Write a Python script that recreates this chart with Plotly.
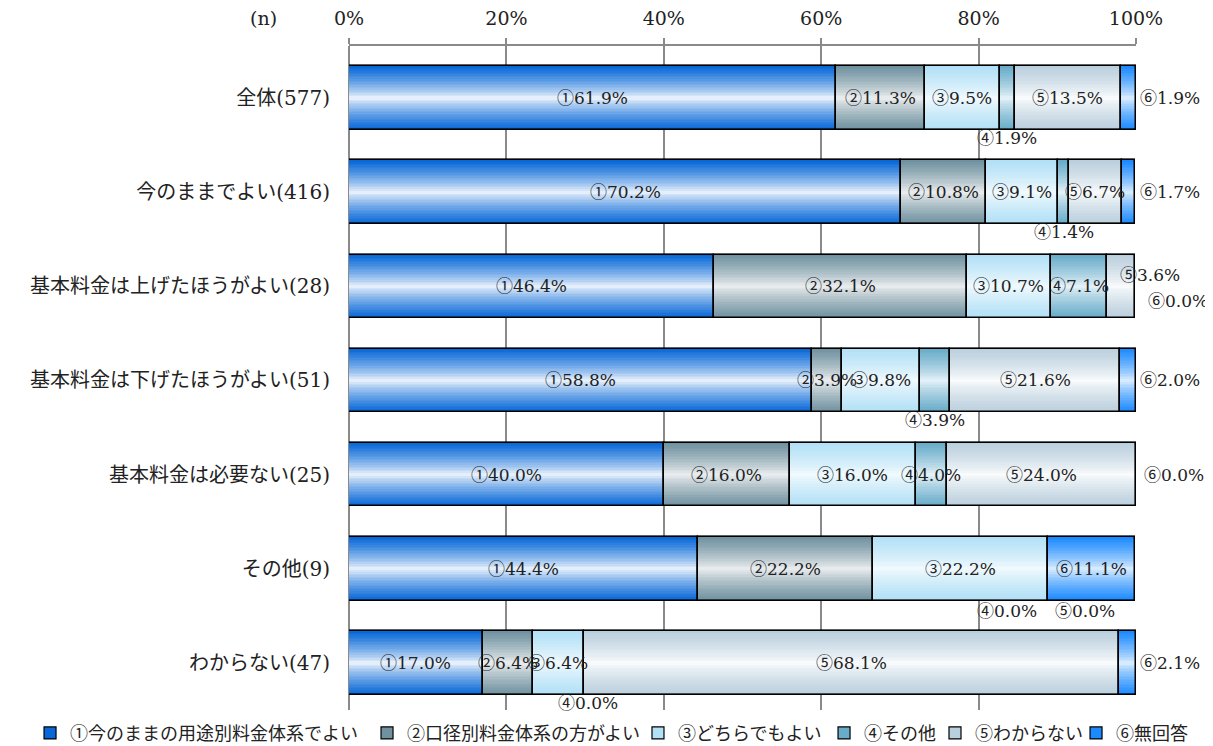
import plotly.graph_objects as go

categories = ["全体(577)", "今のままでよい(416)", "基本料金は上げたほうがよい(28)",
              "基本料金は下げたほうがよい(51)", "基本料金は必要ない(25)", "その他(9)", "わからない(47)"]
series_names = ["①今のままの用途別料金体系でよい", "②口径別料金体系の方がよい", "③どちらでもよい",
                "④その他", "⑤わからない", "⑥無回答"]
prefixes = ["①", "②", "③", "④", "⑤", "⑥"]

s1 = [61.9, 70.2, 46.4, 58.8, 40.0, 44.4, 17.0]
s2 = [11.3, 10.8, 32.1, 3.9, 16.0, 22.2, 6.4]
s3 = [9.5, 9.1, 10.7, 9.8, 16.0, 22.2, 6.4]
s4 = [1.9, 1.4, 7.1, 3.9, 4.0, 0.0, 0.0]
s5 = [13.5, 6.7, 3.6, 21.6, 24.0, 0.0, 68.1]
s6 = [1.9, 1.7, 0.0, 2.0, 0.0, 11.1, 2.1]
series_values = [s1, s2, s3, s4, s5, s6]

x_ticks = [0, 20, 40, 60, 80, 100]

# style: edge colour / centre colour of the vertical gradient
edge_colors = [(8, 104, 216), (112, 146, 160), (178, 224, 246), (104, 172, 201), (186, 207, 221), (28, 138, 255)]
center_colors = [(255, 255, 255), (246, 246, 246), (246, 252, 255), (240, 248, 252), (255, 255, 255), (236, 246, 255)]

# legend item left positions (paper x), one small legend per series so they sit in one row
legend_x = [-0.4053, 0.0229, 0.3672, 0.6036, 0.7446, 0.9238]

# label placement (row, series) -> (mode, xshift, yshift); default is centred inside
placement = {
    (0, 3): ("below", 0, -40), (0, 5): ("right", 2, 0),
    (1, 3): ("below", 0, -40), (1, 5): ("right", 2, 0),
    (2, 4): ("right", -18, 11), (2, 5): ("right", 10, -15),
    (3, 3): ("below", 0, -40), (3, 5): ("right", 2, 0),
    (4, 5): ("right", 6, 0),
    (5, 3): ("below", -41, -42), (5, 4): ("below", 37, -42),
    (6, 3): ("below", 4, -40), (6, 5): ("right", 2, 0),
}

FONT = "DejaVu Serif, Noto Sans CJK JP, serif"
BAR_W = 0.675
N_LAYERS = 20

fig = go.Figure()

# bases (cumulative starts)
bases = []
run = [0.0] * len(categories)
for vals in series_values:
    bases.append(run[:])
    run = [r + v for r, v in zip(run, vals)]

def mix(c0, c1, t):
    return "rgb(%d,%d,%d)" % tuple(round(a + (b - a) * t) for a, b in zip(c0, c1))

def legend_key(i):
    return "legend" if i == 0 else f"legend{i + 1}"

for si, vals in enumerate(series_values):
    for li in range(N_LAYERS):
        frac = 1 - li / N_LAYERS  # 1 = outer edge
        w = BAR_W * frac
        col = mix(center_colors[si], edge_colors[si], frac ** 0.75)
        fig.add_trace(go.Bar(
            y=categories, x=vals, base=bases[si], orientation="h",
            width=w, name=series_names[si],
            marker=dict(color=col, line=dict(color="black", width=1.2 if li == 0 else 0)),
            showlegend=(li == 0), legend=legend_key(si), legendgroup=str(si), hoverinfo="skip",
        ))

# border outlines on top
for si, vals in enumerate(series_values):
    ys = [c for c, v in zip(categories, vals) if v > 0]
    xs = [v for v in vals if v > 0]
    bs = [b for b, v in zip(bases[si], vals) if v > 0]
    fig.add_trace(go.Bar(
        y=ys, x=xs, base=bs, orientation="h", width=BAR_W,
        marker=dict(color="rgba(0,0,0,0)", line=dict(color="black", width=1.5)),
        showlegend=False, hoverinfo="skip",
    ))

annotations = []
for si, vals in enumerate(series_values):
    for ri, v in enumerate(vals):
        text = f"{prefixes[si]}{v:.1f}%"
        mode, dx, dy = placement.get((ri, si), ("in", 0, 0))
        if mode == "right":
            annotations.append(dict(x=100, y=categories[ri], xref="x", yref="y", text=text,
                                    xanchor="left", yanchor="middle", xshift=dx, yshift=dy,
                                    showarrow=False, font=dict(size=17, color="#222", family=FONT)))
        else:
            annotations.append(dict(x=bases[si][ri] + v / 2, y=categories[ri], xref="x", yref="y", text=text,
                                    xanchor="center", yanchor="middle", xshift=dx, yshift=dy,
                                    showarrow=False, font=dict(size=17, color="#222", family=FONT)))

annotations.append(dict(x=-0.109, y=1.042, xref="paper", yref="paper", text="(n)", showarrow=False,
                        xanchor="center", yanchor="middle", font=dict(size=19, color="#222", family=FONT)))

legend_layouts = {}
for i, lx in enumerate(legend_x):
    legend_layouts[legend_key(i)] = dict(
        orientation="h", x=lx, xanchor="left", y=-0.035, yanchor="middle",
        font=dict(size=18, family=FONT, color="#222"), itemwidth=30,
        bgcolor="rgba(0,0,0,0)", borderwidth=0,
    )

fig.update_layout(
    width=1205, height=738,
    margin=dict(l=341, r=77, t=38, b=36, autoexpand=False),
    paper_bgcolor="white", plot_bgcolor="white",
    barmode="overlay", bargap=0,
    font=dict(family=FONT, color="#222"),
    annotations=annotations,
    showlegend=True,
    **legend_layouts,
)
fig.update_xaxes(
    side="top", range=[0, 100], tickvals=x_ticks, ticktext=[f"{t}%" for t in x_ticks],
    showgrid=True, gridcolor="#8a8a8a", gridwidth=2,
    showline=True, linecolor="#8a8a8a", linewidth=2,
    zeroline=True, zerolinecolor="#8a8a8a", zerolinewidth=2,
    ticks="outside", ticklen=6, tickcolor="#8a8a8a", tickwidth=2,
    tickfont=dict(size=19, family=FONT, color="#222"), ticklabelstandoff=5,
    fixedrange=True,
)
fig.update_yaxes(
    categoryorder="array", categoryarray=categories, autorange="reversed",
    showgrid=False, zeroline=False, showline=False, ticks="",
    tickfont=dict(size=20, family=FONT, color="#222"), ticklabelstandoff=18,
    fixedrange=True,
)

fig.write_html("out.html")
